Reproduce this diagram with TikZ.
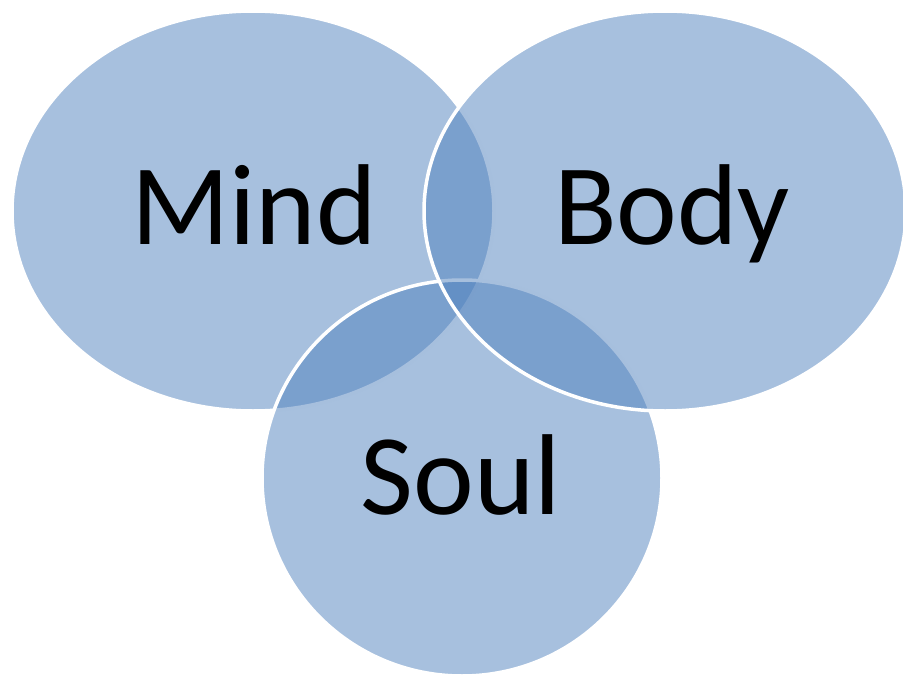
\documentclass[tikz,border=0pt]{standalone}
\usepackage{fontspec}
\setmainfont{Carlito}
\usetikzlibrary{shapes.geometric}
\definecolor{vnblue}{RGB}{79,129,189}
\tikzset{
  venn/.style={
    ellipse, draw=white, line width=3.5pt, fill=vnblue,
    fill opacity=0.5, inner sep=0pt
  },
  word/.style={anchor=base, text=black, inner sep=0pt,
    font=\fontsize{115}{120}\selectfont}
}

\begin{document}
\begin{tikzpicture}[x=1pt, y=-1pt]
  \useasboundingbox (0,0) rectangle (903,677);
  % circles, bottom to top
  \node[venn, minimum width=482pt, minimum height=400pt] (mind) at (253,211) {};
  \node[venn, minimum width=400pt, minimum height=396pt] (soul) at (462,478) {};
  \node[venn, minimum width=482pt, minimum height=400pt] (body) at (665,211) {};
  % labels
  \node[word] (mindtxt) at (254,244) {Mind};
  \node[word] (bodytxt) at (672,244) {Body};
  \node[word] (soultxt) at (461,514) {Soul};
\end{tikzpicture}
\end{document}
